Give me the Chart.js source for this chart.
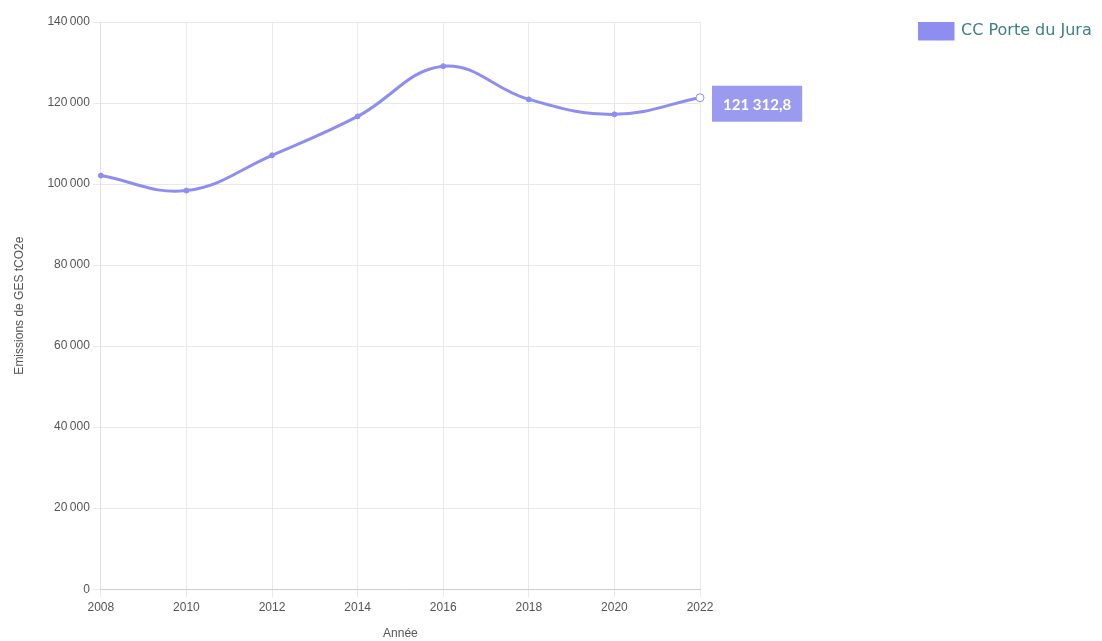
<!DOCTYPE html>
<html>
<head>
<meta charset="utf-8">
<script src="https://cdn.jsdelivr.net/npm/chart.js@4"></script>
<style>
  html, body { margin: 0; padding: 0; background: #fff; }
  #wrap { width: 1102px; height: 641px; }
</style>
</head>
<body>
<div id="wrap"><canvas id="myChart"></canvas></div>
<script>
const years = ['2008', '2010', '2012', '2014', '2016', '2018', '2020', '2022'];
const emissions = [102100, 98400, 107100, 116700, 129100, 120900, 117200, 121312.8];
const seriesName = 'CC Porte du Jura';
const lineColor = '#8e8ef0';

const fmt = v => Math.round(v).toString().replace(/\B(?=(\d{3})+(?!\d))/g, '\u202f');

// label box drawn next to the last point, like the hover tag in the original
const lastValueTag = {
    id: 'lastValueTag',
    afterDatasetsDraw(chart) {
        const meta = chart.getDatasetMeta(0);
        const i = emissions.length - 1;
        const pt = meta.data[i];
        const ctx = chart.ctx;
        const txt = emissions[i].toFixed(1).replace('.', ',').replace(/\B(?=(\d{3})+(?!\d))/, '\u202f');
        ctx.save();
        ctx.font = 'bold 15px Lato';
        const w = ctx.measureText(txt).width + 22;
        const h = 36;
        const x = pt.x + 12;
        const y = pt.y - 12;
        ctx.fillStyle = '#9a9af0';
        ctx.fillRect(x, y, w, h);
        ctx.fillStyle = '#fff';
        ctx.textBaseline = 'middle';
        ctx.fillText(txt, x + 11, y + h / 2 + 1);
        ctx.restore();
    }
};

const ctx = document.getElementById('myChart');

new Chart(ctx, {
    type: 'line',
    data: {
        labels: years,
        datasets: [{
            label: seriesName,
            data: emissions,
            borderColor: lineColor,
            backgroundColor: lineColor,
            borderWidth: 3,
            tension: 0.4,
            pointRadius: emissions.map((v, i) => i === emissions.length - 1 ? 4 : 2.5),
            pointBackgroundColor: emissions.map((v, i) => i === emissions.length - 1 ? '#fff' : lineColor),
            pointBorderColor: lineColor,
            pointBorderWidth: 1
        }]
    },
    options: {
        responsive: true,
        maintainAspectRatio: false,
        animation: false,
        layout: { padding: { top: 22, left: 8, right: 2, bottom: 0 } },
        plugins: {
            legend: {
                position: 'right',
                align: 'start',
                labels: {
                    boxWidth: 35,
                    boxHeight: 17,
                    padding: 0,
                    color: '#3a8088',
                    font: { family: 'DejaVu Sans', size: 16 }
                }
            },
            tooltip: { enabled: false }
        },
        scales: {
            x: {
                offset: false,
                grid: { color: '#e9e9e9' },
                border: { color: '#cfcfcf' },
                ticks: { color: '#555', font: { family: 'Liberation Sans', size: 12 }, padding: 3 },
                title: { display: true, text: 'Année', color: '#555', font: { family: 'Liberation Sans', size: 12 }, padding: { top: 9, bottom: 0 } }
            },
            y: {
                min: 0,
                max: 140000,
                ticks: { stepSize: 20000, color: '#555', font: { family: 'Liberation Sans', size: 12 }, callback: v => fmt(v) },
                grid: { color: '#e9e9e9' },
                border: { color: '#e0e0e0' },
                title: { display: true, text: 'Emissions de GES tCO2e', color: '#555', font: { family: 'Liberation Sans', size: 12 }, padding: { top: 4, bottom: 18 } }
            },
            spacer: {
                type: 'linear',
                position: 'right',
                display: true,
                grid: { display: false, drawOnChartArea: false },
                border: { display: false },
                ticks: { display: false },
                afterFit: s => { s.width = 218; }
            }
        }
    },
    plugins: [lastValueTag]
});
</script>
</body>
</html>
